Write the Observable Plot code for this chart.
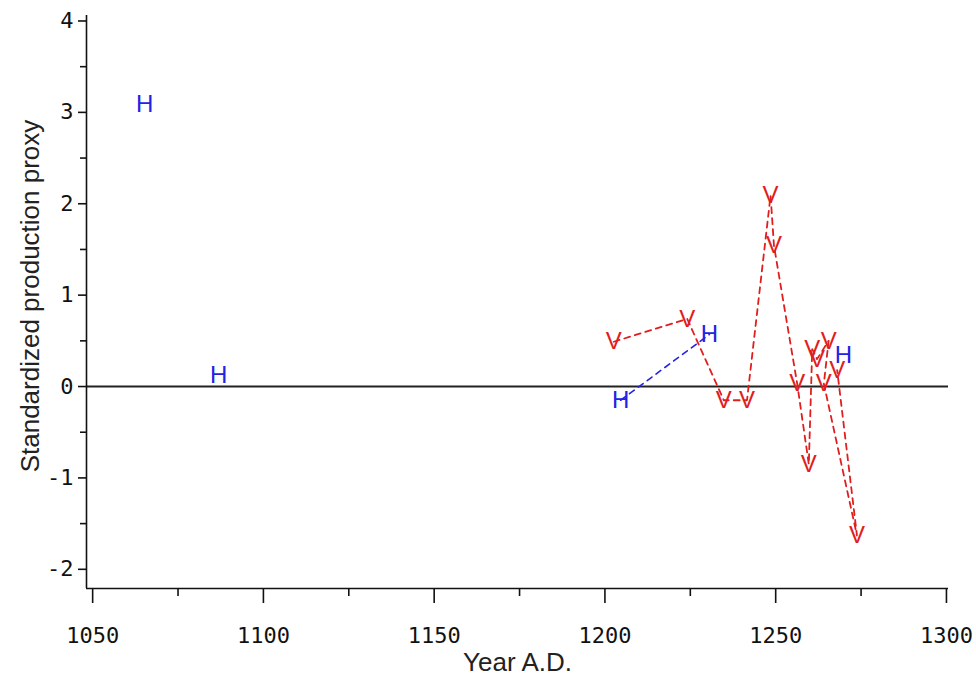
<!DOCTYPE html>
<html><head><meta charset="utf-8">
<script src="https://cdn.jsdelivr.net/npm/d3@7"></script>
<script src="https://cdn.jsdelivr.net/npm/@observablehq/plot@0.6"></script>
<style>body{margin:0;background:#fff;} svg text{font-variant-numeric: slashed-zero;}</style>
</head><body><div id="chart"></div>
<script>
// Blue "H" series
const blueYears  = [1065.2, 1086.9, 1204.6, 1230.6, 1269.8];
const blueValues = [3.09, 0.12, -0.15, 0.57, 0.34];
const blueGroups = [1, 2, 3, 3, 4];
// Red "V" series (drawing order)
const redYears  = [1202.6, 1224.1, 1234.8, 1241.6, 1248.5, 1249.5, 1256.3, 1259.7, 1260.7, 1262.1, 1265.5, 1264.1, 1273.8, 1268.0];
const redValues = [0.49, 0.74, -0.15, -0.15, 2.09, 1.54, 0.03, -0.85, 0.41, 0.30, 0.50, 0.03, -1.63, 0.18];

const xDomain = [1048.2, 1300.6];
const yDomain = [-2.21, 4.06];
const xMajorTicks = [1050, 1100, 1150, 1200, 1250, 1300];
const xMinorTicks = [1075, 1125, 1175, 1225, 1275];
const yMajorTicks = [-2, -1, 0, 1, 2, 3, 4];
const yMinorTicks = [-1.5, -0.5, 0.5, 1.5, 2.5, 3.5];
const xLabel = "Year A.D.";
const yLabel = "Standardized production proxy";

const blue = blueYears.map((year, i) => ({year, value: blueValues[i], group: blueGroups[i]}));
const red = redYears.map((year, i) => ({year, value: redValues[i]}));

const BLUE = "#2323e6", RED = "#e01e1e";
const monoFont = "DejaVu Sans Mono";
const sansFont = "Liberation Sans, Arial, sans-serif";

const chart = Plot.plot({
  width: 976, height: 690,
  marginLeft: 86, marginRight: 28, marginTop: 15, marginBottom: 102,
  x: {domain: xDomain},
  y: {domain: yDomain},
  style: {background: "#fff"},
  marks: [
    Plot.ruleY([0], {stroke: "#222", strokeWidth: 2}),
    Plot.ruleX([xDomain[0]], {stroke: "#111", strokeWidth: 1.6}),
    Plot.ruleY([yDomain[0]], {stroke: "#111", strokeWidth: 1.6}),
    Plot.axisX({ticks: xMajorTicks, tickSize: 15, tickPadding: 24, label: null,
      tickFormat: d => String(d), fontSize: 22, fontFamily: monoFont, stroke: "#111", strokeWidth: 1.6, fill: "#111"}),
    Plot.axisX({ticks: xMinorTicks, tickSize: 8, label: null, tickFormat: () => "", stroke: "#111", strokeWidth: 1.6}),
    Plot.axisY({ticks: yMajorTicks, tickSize: 8, tickPadding: 5, label: null,
      tickFormat: d => String(d), fontSize: 22, fontFamily: monoFont, stroke: "#111", strokeWidth: 1.6, fill: "#111"}),
    Plot.axisY({ticks: yMinorTicks, tickSize: 6, label: null, tickFormat: () => "", stroke: "#111", strokeWidth: 1.6}),
    Plot.text([xLabel], {frameAnchor: "bottom", dy: 82, fontSize: 26, fontFamily: sansFont, fill: "#222"}),
    Plot.text([yLabel], {frameAnchor: "left", textAnchor: "middle", rotate: -90, dx: -56, dy: -6, fontSize: 26, fontFamily: sansFont, fill: "#222"}),
    Plot.line(blue, {x: "year", y: "value", z: "group", stroke: BLUE, strokeWidth: 1.6, strokeDasharray: "6,5"}),
    Plot.line(red, {x: "year", y: "value", stroke: RED, strokeWidth: 1.8, strokeDasharray: "6,5"}),
    Plot.text(red, {x: "year", y: "value", text: () => "V", fill: RED, fontSize: 24, fontFamily: sansFont}),
    Plot.text(blue, {x: "year", y: "value", text: () => "H", fill: BLUE, fontSize: 24, fontFamily: sansFont})
  ]
});
document.getElementById("chart").appendChild(chart);
</script>
</body></html>
